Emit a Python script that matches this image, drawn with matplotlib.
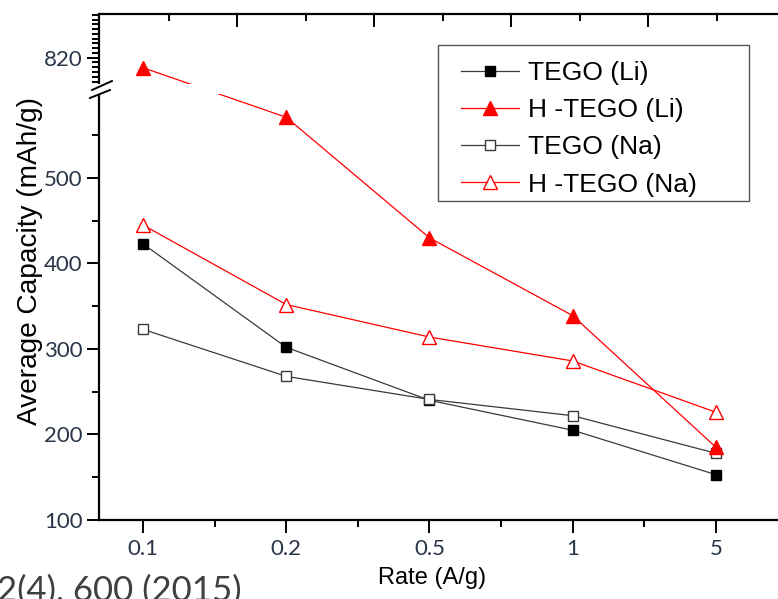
import numpy as np
import matplotlib
matplotlib.use('Agg')
import matplotlib.pyplot as plt
from matplotlib.ticker import FixedLocator, FixedFormatter
from matplotlib.patches import Rectangle

# Data
rates = ['0.1', '0.2', '0.5', '1', '5']
tego_li = [423, 302, 240, 205, 153]
htego_li = [799, 571, 430, 339, 185]
tego_na = [323, 268, 241, 222, 178]
htego_na = [445, 352, 314, 286, 226]

y_major = [100, 200, 300, 400, 500, 820]
y_minor = [150, 250, 350, 450, 550] + [v for v in range(770, 911, 10) if v != 820]

# broken y axis: 100-600 linear, then gap, then compressed 765+
LOW_TOP, UP_BOT, GAP, K = 600.0, 765.0, 10.0, 0.558


def fwd(v):
    v = np.asarray(v, dtype=float)
    return np.where(v <= LOW_TOP, v,
                    np.where(v < UP_BOT, LOW_TOP + (v - LOW_TOP) * GAP / (UP_BOT - LOW_TOP),
                             LOW_TOP + GAP + (v - UP_BOT) * K))


def inv(f):
    f = np.asarray(f, dtype=float)
    return np.where(f <= LOW_TOP, f,
                    np.where(f < LOW_TOP + GAP, LOW_TOP + (f - LOW_TOP) * (UP_BOT - LOW_TOP) / GAP,
                             UP_BOT + (f - LOW_TOP - GAP) / K))


W, H = 778, 599
fig = plt.figure(figsize=(W / 100, H / 100), dpi=100)
ax = fig.add_axes([99 / W, (H - 520) / H, (W - 99) / W, (520 - 14) / H])

x = np.arange(len(rates))
gray = '#3a3a3a'
red = '#ff0000'

l1, = ax.plot(x, tego_li, color=gray, lw=0.9, marker='s', ms=7.2,
              mfc='black', mec='black', label='TEGO (Li)', zorder=2)
l3, = ax.plot(x, tego_na, color=gray, lw=0.9, marker='s', ms=7.2,
              mfc='white', mec=gray, mew=1.0, label='TEGO (Na)', zorder=2)
l2, = ax.plot(x, htego_li, color=red, lw=0.9, marker='^', ms=10,
              mfc=red, mec=red, label='H -TEGO (Li)', zorder=2)
l4, = ax.plot(x, htego_na, color=red, lw=0.9, marker='^', ms=10,
              mfc='white', mec=red, mew=1.0, label='H -TEGO (Na)', zorder=2)

ax.set_yscale('function', functions=(fwd, inv))
ax.set_ylim(100, 911.6)
ax.set_xlim(-0.307, 4.433)

ax.set_xticks(x)
ax.set_xticklabels(rates)
ax.xaxis.set_minor_locator(FixedLocator(x[:-1] + 0.5))
ax.yaxis.set_major_locator(FixedLocator(y_major))
ax.yaxis.set_major_formatter(FixedFormatter([str(v) for v in y_major]))
ax.yaxis.set_minor_locator(FixedLocator(y_minor))

tick_color = '#2a3548'
for lab in ax.get_xticklabels() + ax.get_yticklabels():
    lab.set_fontfamily('Lato')
    lab.set_fontsize(16)
    lab.set_color(tick_color)

ax.tick_params(axis='both', which='major', direction='out', length=9, width=1.4)
ax.tick_params(axis='both', which='minor', direction='out', length=5, width=1.4)
ax.tick_params(axis='y', which='both', pad=3)
ax.tick_params(axis='x', which='both', pad=5)
ax.tick_params(top=False, right=False, which='both')

for side in ['left', 'bottom', 'top']:
    ax.spines[side].set_linewidth(1.6)
ax.spines['right'].set_visible(False)

# top ticks belong to a separate (cropped) axis
top = ax.twiny()
top.set_xlim(-1.022, 8.891)
top.set_xticks([1, 3, 5, 7])
top.set_xticks([0, 2, 4, 6, 8], minor=True)
top.tick_params(axis='x', which='major', direction='in', length=9, width=1.4, labeltop=False)
top.tick_params(axis='x', which='minor', direction='in', length=5, width=1.4)
for side in ['left', 'bottom', 'right', 'top']:
    top.spines[side].set_visible(False)

# axis break
ax.add_patch(Rectangle((-0.03, 0.842), 1.1, 0.02, transform=ax.transAxes,
                       facecolor='white', edgecolor='none', zorder=3, clip_on=False))
ax.plot([-0.0103, 0.0191], [0.8498, 0.8676], transform=ax.transAxes,
        color='black', lw=1.4, clip_on=False, zorder=4)
ax.plot([-0.0133, 0.0162], [0.8340, 0.8498], transform=ax.transAxes,
        color='black', lw=1.4, clip_on=False, zorder=4)

ax.set_ylabel('Average Capacity (mAh/g)', fontfamily='Liberation Sans', fontsize=20.2)
ax.yaxis.set_label_coords(-0.0825, 0.512)
ax.set_xlabel('Rate (A/g)', fontfamily='Liberation Sans', fontsize=17)
ax.xaxis.set_label_coords(0.49, -0.093)

# legend content without its own frame, framed by a box like the reference
ax.add_patch(Rectangle((438 / W, 1 - 201 / H), (749 - 438) / W, (201 - 45) / H,
                       transform=fig.transFigure, facecolor='white',
                       edgecolor='#555555', linewidth=1.0, zorder=5, clip_on=False))
leg = ax.legend(handles=[l1, l2, l3, l4], loc='upper left',
                bbox_to_anchor=(461 / W, 1 - 61 / H),
                bbox_transform=fig.transFigure, borderaxespad=0, borderpad=0,
                prop={'family': 'Liberation Sans', 'size': 19},
                handlelength=2.2, handletextpad=0.35, labelspacing=0.5,
                frameon=False)
leg.set_zorder(6)

# cropped citation text from the source page
fig.text(-0.004, 1 - 575 / H, '2(4), 600 (2015)', fontfamily='Lato', fontsize=25,
         color='#404040', ha='left', va='top')

fig.savefig('out.png', dpi=100)
